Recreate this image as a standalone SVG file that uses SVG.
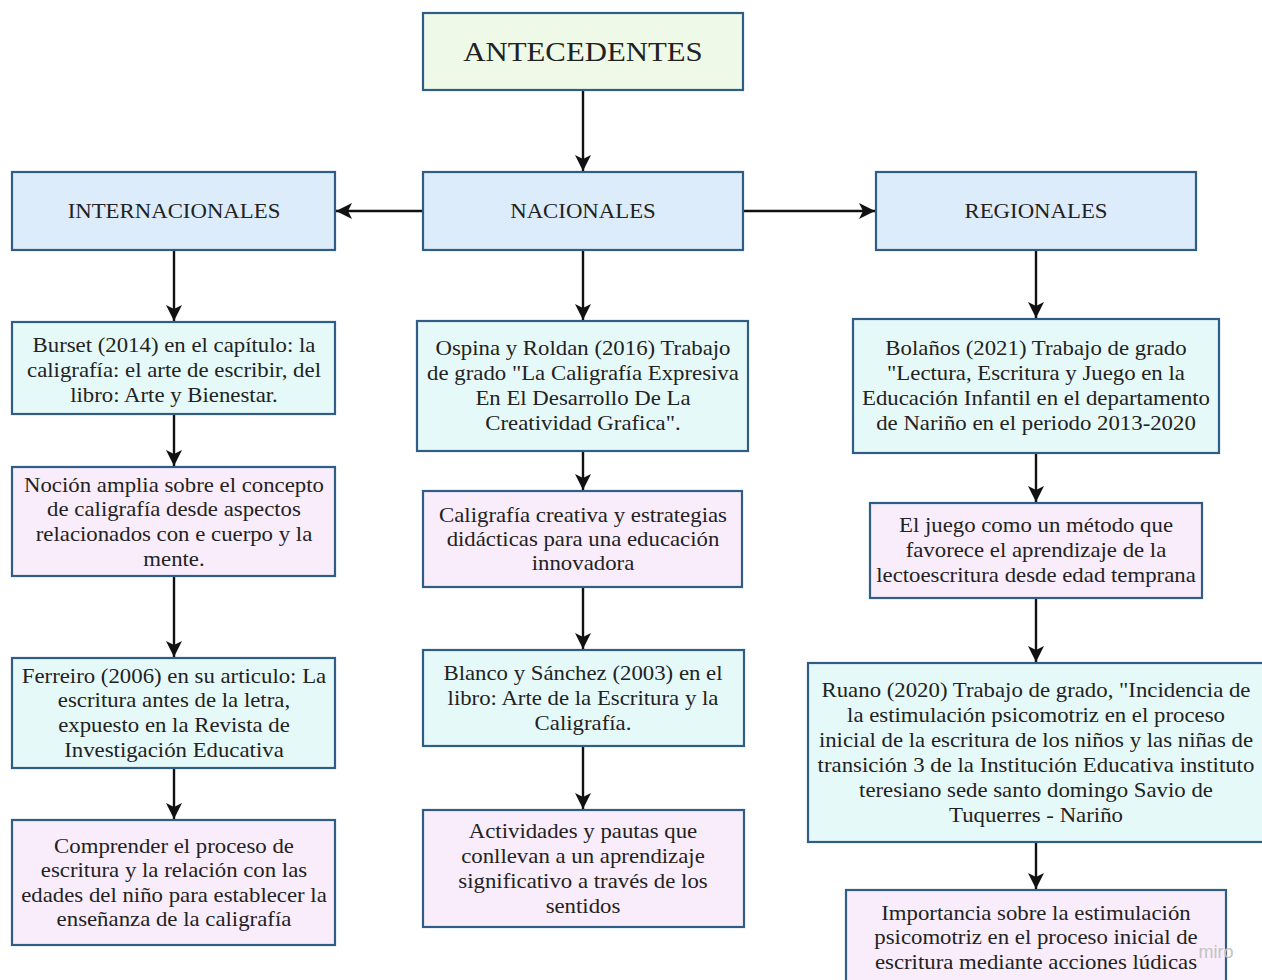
<svg xmlns="http://www.w3.org/2000/svg" width="1262" height="980" viewBox="0 0 1262 980">
<style>
.box{stroke:#2f5d86;stroke-width:2.2}
.g{fill:#eef9e7}
.b{fill:#dcecfb}
.c{fill:#e6f9f9}
.p{fill:#f9edfc}
text{font-family:"Liberation Serif","Times New Roman",serif;fill:#222;text-anchor:middle}
.t{font-size:20px}
.h{font-size:20px}
.big{font-size:27.5px}
.conn{stroke:#111;stroke-width:2.4;fill:none;marker-end:url(#ah)}
.wm{font-family:"Liberation Sans",Arial,sans-serif;font-size:18px;fill:#c2c2c2}
</style>
<defs>
<marker id="ah" markerUnits="userSpaceOnUse" markerWidth="20" markerHeight="20" refX="16" refY="8" orient="auto">
<path d="M0,0 L16,8 L0,16 L4,8 Z" fill="#111"/>
</marker>
</defs>
<rect width="1262" height="980" fill="#ffffff"/>
<g id="connectors">
<line class="conn" x1="583" y1="90" x2="583" y2="171"/>
<line class="conn" x1="423" y1="211" x2="336" y2="211"/>
<line class="conn" x1="743" y1="211" x2="875" y2="211"/>
<line class="conn" x1="174" y1="250" x2="174" y2="321"/>
<line class="conn" x1="174" y1="414" x2="174" y2="466"/>
<line class="conn" x1="174" y1="576" x2="174" y2="657"/>
<line class="conn" x1="174" y1="768" x2="174" y2="819"/>
<line class="conn" x1="583" y1="250" x2="583" y2="320"/>
<line class="conn" x1="583" y1="451" x2="583" y2="490"/>
<line class="conn" x1="583" y1="587" x2="583" y2="649"/>
<line class="conn" x1="583" y1="746" x2="583" y2="809"/>
<line class="conn" x1="1036" y1="250" x2="1036" y2="318"/>
<line class="conn" x1="1036" y1="453" x2="1036" y2="502"/>
<line class="conn" x1="1036" y1="598" x2="1036" y2="662"/>
<line class="conn" x1="1036" y1="842" x2="1036" y2="889"/>
</g>
<g id="antecedentes">
<rect class="box g" x="423" y="13" width="320" height="77"/>
<text class="big" x="583" y="61" transform="matrix(1.12,0,0,1,-69.96,0)">ANTECEDENTES</text>
</g>
<g id="internacionales">
<rect class="box b" x="12" y="172" width="323" height="78"/>
<text class="h" x="174" y="218" transform="matrix(1.14,0,0,1,-24.36,0)">INTERNACIONALES</text>
</g>
<g id="nacionales">
<rect class="box b" x="423" y="172" width="320" height="78"/>
<text class="h" x="583" y="218" transform="matrix(1.14,0,0,1,-81.62,0)">NACIONALES</text>
</g>
<g id="regionales">
<rect class="box b" x="876" y="172" width="320" height="78"/>
<text class="h" x="1036" y="218" transform="matrix(1.14,0,0,1,-145.04,0)">REGIONALES</text>
</g>
<g id="burset">
<rect class="box c" x="12" y="322" width="323" height="92"/>
<text class="t" transform="matrix(1.14,0,0,1,-24.36,0)"><tspan x="174" y="352">Burset (2014) en el capítulo: la</tspan><tspan x="174" y="377">caligrafía: el arte de escribir, del</tspan><tspan x="174" y="402">libro: Arte y Bienestar.</tspan></text>
</g>
<g id="nocion">
<rect class="box p" x="12" y="467" width="323" height="109"/>
<text class="t" transform="matrix(1.14,0,0,1,-24.36,0)"><tspan x="174" y="492">Noción amplia sobre el concepto</tspan><tspan x="174" y="516">de caligrafía desde aspectos</tspan><tspan x="174" y="541">relacionados con e cuerpo y la</tspan><tspan x="174" y="566">mente.</tspan></text>
</g>
<g id="ferreiro">
<rect class="box c" x="12" y="658" width="323" height="110"/>
<text class="t" transform="matrix(1.14,0,0,1,-24.36,0)"><tspan x="174" y="683">Ferreiro (2006) en su articulo: La</tspan><tspan x="174" y="707">escritura antes de la letra,</tspan><tspan x="174" y="732">expuesto en la Revista de</tspan><tspan x="174" y="757">Investigación Educativa</tspan></text>
</g>
<g id="comprender">
<rect class="box p" x="12" y="820" width="323" height="125"/>
<text class="t" transform="matrix(1.14,0,0,1,-24.36,0)"><tspan x="174" y="853">Comprender el proceso de</tspan><tspan x="174" y="877">escritura y la relación con las</tspan><tspan x="174" y="902">edades del niño para establecer la</tspan><tspan x="174" y="926">enseñanza de la caligrafía</tspan></text>
</g>
<g id="ospina">
<rect class="box c" x="417" y="321" width="331" height="130"/>
<text class="t" transform="matrix(1.14,0,0,1,-81.62,0)"><tspan x="583" y="355">Ospina y Roldan (2016) Trabajo</tspan><tspan x="583" y="380">de grado "La Caligrafía Expresiva</tspan><tspan x="583" y="405">En El Desarrollo De La</tspan><tspan x="583" y="430">Creatividad Grafica".</tspan></text>
</g>
<g id="caligrafia-creativa">
<rect class="box p" x="423" y="491" width="319" height="96"/>
<text class="t" transform="matrix(1.14,0,0,1,-81.62,0)"><tspan x="583" y="522">Caligrafía creativa y estrategias</tspan><tspan x="583" y="546">didácticas para una educación</tspan><tspan x="583" y="570">innovadora</tspan></text>
</g>
<g id="blanco">
<rect class="box c" x="423" y="650" width="321" height="96"/>
<text class="t" transform="matrix(1.14,0,0,1,-81.62,0)"><tspan x="583" y="680">Blanco y Sánchez (2003) en el</tspan><tspan x="583" y="705">libro: Arte de la Escritura y la</tspan><tspan x="583" y="730">Caligrafía.</tspan></text>
</g>
<g id="actividades">
<rect class="box p" x="423" y="810" width="321" height="117"/>
<text class="t" transform="matrix(1.14,0,0,1,-81.62,0)"><tspan x="583" y="838">Actividades y pautas que</tspan><tspan x="583" y="863">conllevan a un aprendizaje</tspan><tspan x="583" y="888">significativo a través de los</tspan><tspan x="583" y="913">sentidos</tspan></text>
</g>
<g id="bolanos">
<rect class="box c" x="853" y="319" width="366" height="134"/>
<text class="t" transform="matrix(1.14,0,0,1,-145.04,0)"><tspan x="1036" y="355">Bolaños (2021) Trabajo de grado</tspan><tspan x="1036" y="380">"Lectura, Escritura y Juego en la</tspan><tspan x="1036" y="405">Educación Infantil en el departamento</tspan><tspan x="1036" y="430">de Nariño en el periodo 2013-2020</tspan></text>
</g>
<g id="juego">
<rect class="box p" x="870" y="503" width="332" height="95"/>
<text class="t" transform="matrix(1.14,0,0,1,-145.04,0)"><tspan x="1036" y="532">El juego como un método que</tspan><tspan x="1036" y="557">favorece el aprendizaje de la</tspan><tspan x="1036" y="582">lectoescritura desde edad temprana</tspan></text>
</g>
<g id="ruano">
<rect class="box c" x="808" y="663" width="460" height="179"/>
<text class="t" transform="matrix(1.14,0,0,1,-145.04,0)"><tspan x="1036" y="697">Ruano (2020) Trabajo de grado, "Incidencia de</tspan><tspan x="1036" y="722">la estimulación psicomotriz en el proceso</tspan><tspan x="1036" y="747">inicial de la escritura de los niños y las niñas de</tspan><tspan x="1036" y="772">transición 3 de la Institución Educativa instituto</tspan><tspan x="1036" y="797">teresiano sede santo domingo Savio de</tspan><tspan x="1036" y="822">Tuquerres - Nariño</tspan></text>
</g>
<g id="importancia">
<rect class="box p" x="846" y="890" width="380" height="100"/>
<text class="t" transform="matrix(1.14,0,0,1,-145.04,0)"><tspan x="1036" y="920">Importancia sobre la estimulación</tspan><tspan x="1036" y="944">psicomotriz en el proceso inicial de</tspan><tspan x="1036" y="969">escritura mediante acciones lúdicas</tspan></text>
</g>
<text class="wm" x="1216" y="958">miro</text>
</svg>
